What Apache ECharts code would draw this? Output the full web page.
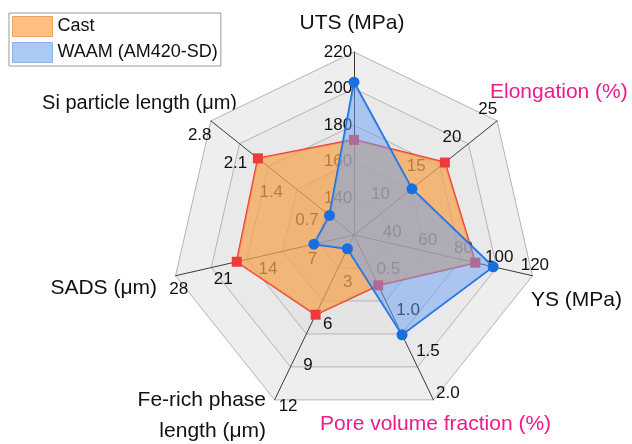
<!DOCTYPE html>
<html>
<head>
<meta charset="utf-8">
<script src="https://cdn.jsdelivr.net/npm/echarts@6/dist/echarts.min.js"></script>
<style>
  html, body { margin: 0; padding: 0; background: #ffffff; }
  #chart { width: 632px; height: 444px; }
</style>
</head>
<body>
<div id="chart"></div>
<script>
// Property axes, listed counter-clockwise from the top (ECharts radar order)
const axisNames = ['UTS (MPa)', 'Si particle length (μm)', 'SADS (μm)', 'Fe-rich phase\nlength (μm)',
                   'Pore volume fraction (%)', 'YS (MPa)', 'Elongation (%)'];
const axisMin = [120, 0, 0, 0, 0, 20, 5];
const axisMax = [220, 2.8, 28, 12, 2.0, 120, 25];
// axes whose tick labels follow the 5-ring grid (the others use 4 steps)
const fiveStepAxes = [true, false, false, false, false, true, false];
const labelDecimals = [0, 1, 0, 0, 1, 0, 0];

// Measured properties
const castValues = [172, 1.88, 18.4, 5.8, 0.61, 88, 17.7];
const waamValues = [203.5, 0.48, 6.3, 1.0, 1.21, 98, 13.1];

const seriesNames = ['Cast', 'WAAM (AM420-SD)'];

const FONT = 'Liberation Sans, Arial, sans-serif';
const PINK = '#ec1a8a';

// per-axis label offset from the axis line
const labelMargins = [16, 18, 14, 15, 16, 11, 15];

function indicators(showFor) {
  return axisNames.map((n, i) => ({
    name: n,
    min: axisMin[i],
    max: axisMax[i],
    axisLabel: {
      show: showFor(i),
      margin: labelMargins[i],
      align: 'center',
      verticalAlign: 'middle',
      formatter: v => Number(v).toFixed(labelDecimals[i])
    }
  }));
}

const chart = echarts.init(document.getElementById('chart'), null, { renderer: 'canvas' });

const baseRadar = {
  center: [354, 235],
  radius: 183,
  startAngle: 90,
  shape: 'polygon',
  axisName: { show: false },
  axisTick: { show: false },
  z: 1
};

const nameStyle = (i, extra) => Object.assign({
  text: axisNames[i], font: '21px ' + FONT, fill: '#111111', textVerticalAlign: 'middle'
}, extra);

chart.setOption({
  animation: false,
  backgroundColor: '#ffffff',
  legend: {
    orient: 'vertical',
    left: 9,
    top: 13,
    padding: [3, 3, 3, 3],
    itemWidth: 40,
    itemHeight: 20,
    itemGap: 5,
    icon: 'rect',
    borderColor: '#999999',
    borderWidth: 1,
    backgroundColor: '#ffffff',
    textStyle: { fontFamily: FONT, fontSize: 18, color: '#111111' },
    data: [
      { name: seriesNames[0], itemStyle: { color: '#ffbf80', borderColor: '#e8a25c', borderWidth: 1 } },
      { name: seriesNames[1], itemStyle: { color: '#aac9f3', borderColor: '#8fb3e6', borderWidth: 1 } }
    ]
  },
  radar: [
    Object.assign({}, baseRadar, {
      splitNumber: 5,
      indicator: indicators(i => fiveStepAxes[i]),
      axisLine: { lineStyle: { color: '#3a3a3a', width: 1 } },
      splitLine: { lineStyle: { color: '#b4b4b4', width: 1 } },
      splitArea: { show: true, areaStyle: { color: ['#dadada', '#dfdfdf', '#e4e4e4', '#e9e9e9', '#eeeeee'] } },
      axisLabel: { show: false, showMinLabel: false, fontFamily: FONT, fontSize: 17, color: '#111111' }
    }),
    Object.assign({}, baseRadar, {
      splitNumber: 4,
      indicator: indicators(i => !fiveStepAxes[i]),
      axisLine: { show: false },
      splitLine: { show: false },
      splitArea: { show: false },
      axisLabel: { show: false, showMinLabel: false, fontFamily: FONT, fontSize: 17, color: '#111111' }
    })
  ],
  series: [
    {
      type: 'radar',
      name: seriesNames[0],
      radarIndex: 0,
      z: 2,
      symbol: 'rect',
      symbolSize: 10,
      itemStyle: { color: '#ee3a3a' },
      lineStyle: { color: '#ee3a3a', width: 2 },
      areaStyle: { color: '#f7a54e', opacity: 0.72 },
      data: [{ name: seriesNames[0], value: castValues }]
    },
    {
      type: 'radar',
      name: seriesNames[1],
      radarIndex: 0,
      z: 3,
      symbol: 'circle',
      symbolSize: 11,
      itemStyle: { color: '#1a6fe0' },
      lineStyle: { color: '#1a6fe0', width: 2 },
      areaStyle: { color: '#67a0f8', opacity: 0.48 },
      data: [{ name: seriesNames[1], value: waamValues }]
    }
  ],
  graphic: [
    { type: 'text', x: 352, y: 23, style: nameStyle(0, { textAlign: 'center' }) },
    { type: 'text', x: 237, y: 103, style: nameStyle(1, { textAlign: 'right', font: '20px ' + FONT }) },
    { type: 'text', x: 157, y: 288, style: nameStyle(2, { textAlign: 'right' }) },
    { type: 'text', x: 266, y: 416, style: nameStyle(3, { textAlign: 'right', lineHeight: 31 }) },
    { type: 'text', x: 320, y: 424, style: nameStyle(4, { textAlign: 'left', fill: PINK }) },
    { type: 'text', x: 531, y: 300, style: nameStyle(5, { textAlign: 'left' }) },
    { type: 'text', x: 490, y: 92, style: nameStyle(6, { textAlign: 'left', fill: PINK }) }
  ]
});
</script>
</body>
</html>
